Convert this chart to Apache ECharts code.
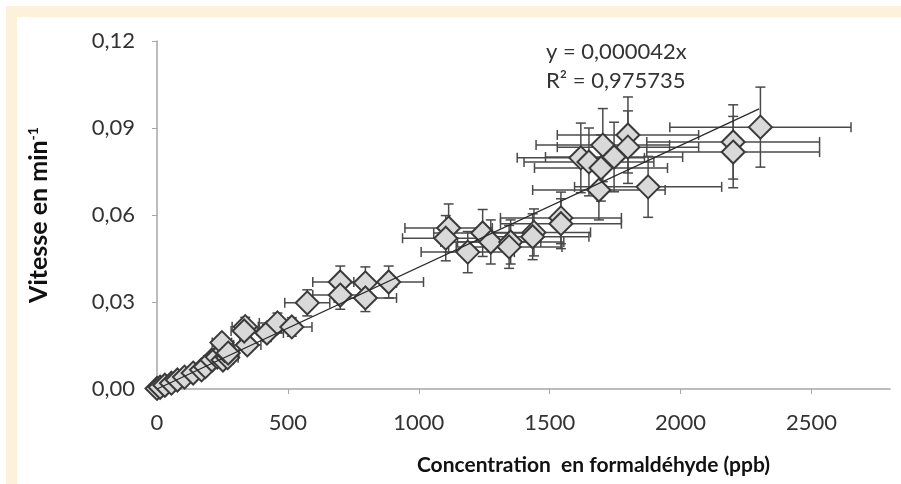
<!DOCTYPE html>
<html><head><meta charset="utf-8">
<script src="https://cdn.jsdelivr.net/npm/echarts@6/dist/echarts.min.js"></script>
<style>html,body{margin:0;padding:0;background:#fff}#c{width:901px;height:484px}</style>
</head><body><div id="c"></div>
<script>
// Concentration (ppb)
const xVals = [0,12,30,55,78,105,138,170,185,210,230,252,270,258,248,272,345,337,333,420,460,515,574,700,700,796,796,885,1114,1103,1187,1244,1275,1351,1345,1440,1435,1543,1543,1619,1650,1703,1696,1746,1799,1799,1688,1876,2201,2201,2305];
// Vitesse (min^-1)
const yVals = [0.0002,0.0006,0.0013,0.0020,0.0031,0.0041,0.0055,0.0066,0.0077,0.0100,0.0110,0.0100,0.0108,0.0133,0.0160,0.0124,0.0152,0.0215,0.0200,0.0193,0.0228,0.0214,0.0297,0.0369,0.0324,0.0366,0.0314,0.0369,0.0555,0.0520,0.0472,0.0538,0.0507,0.0507,0.0490,0.0540,0.0525,0.0590,0.0570,0.0797,0.0783,0.0841,0.0762,0.0800,0.0876,0.0834,0.0686,0.0697,0.0852,0.0817,0.0903];
// horizontal error (ppb)
const xErr = [5,5,8,10,12,16,20,25,28,32,35,38,40,39,37,41,52,50,50,63,69,77,86,105,105,119,119,133,167,165,178,187,191,203,202,216,215,231,231,243,248,255,254,262,270,270,253,281,330,330,346];
// vertical error (min^-1)
const yErr = [0.0003,0.0004,0.0004,0.0005,0.0006,0.0007,0.0009,0.0010,0.0012,0.0015,0.0017,0.0015,0.0016,0.0020,0.0024,0.0019,0.0023,0.0032,0.0030,0.0029,0.0034,0.0032,0.0045,0.0055,0.0049,0.0055,0.0047,0.0055,0.0083,0.0078,0.0071,0.0081,0.0076,0.0076,0.0074,0.0081,0.0079,0.0089,0.0086,0.0120,0.0117,0.0126,0.0114,0.0120,0.0131,0.0125,0.0103,0.0105,0.0128,0.0123,0.0138];
// trend line end points
const trendX = [0, 2300];
const trendY = [0, 0.0966];
const xTicks = [0,500,1000,1500,2000,2500];
const xTickLabels = ['0','500','1000','1500','2000','2500'];
const yTicks = [0,0.03,0.06,0.09,0.12];
const yTickLabels = ['0,00','0,03','0,06','0,09','0,12'];
const eqLine1 = 'y = 0,000042x';
const eqLine2 = 'R² = 0,975735';

const FONT = 'Lato';
const pts = xVals.map((x,i)=>[x,yVals[i],xErr[i],yErr[i]]);
const chart = echarts.init(document.getElementById('c'), null, {renderer:'canvas'});
const ERR_COLOR = '#4a4a4a';
chart.setOption({
  backgroundColor:'#ffffff',
  animation:false,
  graphic:[
    {type:'rect', shape:{x:6,y:6,width:895,height:11}, style:{fill:'#fcf2db'}, z:-1},
    {type:'rect', shape:{x:6,y:6,width:11,height:478}, style:{fill:'#fcf2db'}, z:-1},
    {type:'text', left:546, top:41, style:{text:eqLine1, font:'22px '+FONT, fill:'#333'}},
    {type:'text', left:546, top:70, style:{text:eqLine2, font:'22px '+FONT, fill:'#333'}}
  ],
  grid:{left:157, right:11, top:41, bottom:95},
  xAxis:{
    type:'value', min:0, max:2800, interval:500,
    name:'Concentration  en formaldéhyde (ppb)', nameLocation:'middle', nameGap:66,
    nameTextStyle:{fontFamily:FONT, fontWeight:'bold', fontSize:21, color:'#111', padding:[0,0,0,140]},
    axisLine:{show:true, lineStyle:{color:'#a6a6a6', width:1.5}},
    axisTick:{show:true, length:5, customValues:xTicks, lineStyle:{color:'#a6a6a6'}},
    axisLabel:{customValues:xTicks, formatter:(v)=>xTickLabels[xTicks.indexOf(v)] ?? '', fontFamily:FONT, fontSize:22, color:'#333', margin:23},
    splitLine:{show:false}
  },
  yAxis:{
    type:'value', min:0, max:0.12, interval:0.03,
    name:'Vitesse en min{sup|-1}', nameLocation:'middle', nameGap:105, nameRotate:90,
    nameTextStyle:{fontFamily:FONT, fontWeight:'bold', fontSize:25, color:'#111',
      rich:{sup:{fontFamily:FONT, fontWeight:'bold', fontSize:14, color:'#111', verticalAlign:'top', padding:[0,0,12,0]}}},
    axisLine:{show:true, lineStyle:{color:'#a6a6a6', width:1.5}},
    axisTick:{show:true, length:5, lineStyle:{color:'#a6a6a6'}},
    axisLabel:{formatter:(v)=>{const i=yTicks.findIndex(t=>Math.abs(t-v)<1e-9);return i>=0?yTickLabels[i]:'';}, fontFamily:FONT, fontSize:22, color:'#333', margin:22},
    splitLine:{show:false}
  },
  series:[
    {
      type:'custom', z:2, clip:false,
      data:pts,
      renderItem:(params, api)=>{
        const x=api.value(0), y=api.value(1), ex=api.value(2), ey=api.value(3);
        const l=api.coord([x-ex,y]), r=api.coord([x+ex,y]);
        const t=api.coord([x,y+ey]), b=api.coord([x,y-ey]);
        const c=5;
        const st={stroke:ERR_COLOR, lineWidth:1.5};
        return {type:'group', children:[
          {type:'line', shape:{x1:l[0],y1:l[1],x2:r[0],y2:r[1]}, style:st},
          {type:'line', shape:{x1:l[0],y1:l[1]-c,x2:l[0],y2:l[1]+c}, style:st},
          {type:'line', shape:{x1:r[0],y1:r[1]-c,x2:r[0],y2:r[1]+c}, style:st},
          {type:'line', shape:{x1:t[0],y1:t[1],x2:b[0],y2:b[1]}, style:st},
          {type:'line', shape:{x1:t[0]-c,y1:t[1],x2:t[0]+c,y2:t[1]}, style:st},
          {type:'line', shape:{x1:b[0]-c,y1:b[1],x2:b[0]+c,y2:b[1]}, style:st}
        ]};
      }
    },
    {
      type:'scatter', z:3,
      data:xVals.map((x,i)=>[x,yVals[i]]),
      symbol:'diamond', symbolSize:23,
      itemStyle:{color:'#d9d9d9', borderColor:'#3a3a3a', borderWidth:2, opacity:1}
    },
    {
      type:'line', z:4,
      data:trendX.map((x,i)=>[x,trendY[i]]),
      symbol:'none',
      lineStyle:{color:'#2a2a2a', width:1.3}
    }
  ]
});
</script></body></html>
